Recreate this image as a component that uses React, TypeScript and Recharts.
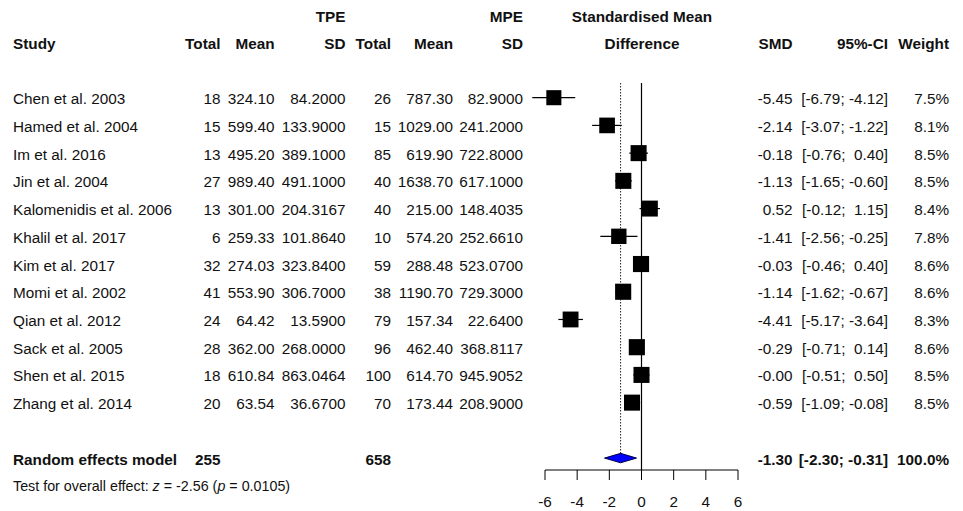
import React from 'react';
import { ComposedChart, Scatter, XAxis, YAxis, ReferenceLine } from 'recharts';

// ---------- data ----------
const studies = [
  'Chen et al. 2003',
  'Hamed et al. 2004',
  'Im et al. 2016',
  'Jin et al. 2004',
  'Kalomenidis et al. 2006',
  'Khalil et al. 2017',
  'Kim et al. 2017',
  'Momi et al. 2002',
  'Qian et al. 2012',
  'Sack et al. 2005',
  'Shen et al. 2015',
  'Zhang et al. 2014',
];
const tpeTotal = [18, 15, 13, 27, 13, 6, 32, 41, 24, 28, 18, 20];
const tpeMean = [324.1, 599.4, 495.2, 989.4, 301.0, 259.33, 274.03, 553.9, 64.42, 362.0, 610.84, 63.54];
const tpeSD = [84.2, 133.9, 389.1, 491.1, 204.3167, 101.864, 323.84, 306.7, 13.59, 268.0, 863.0464, 36.67];
const mpeTotal = [26, 15, 85, 40, 40, 10, 59, 38, 79, 96, 100, 70];
const mpeMean = [787.3, 1029.0, 619.9, 1638.7, 215.0, 574.2, 288.48, 1190.7, 157.34, 462.4, 614.7, 173.44];
const mpeSD = [82.9, 241.2, 722.8, 617.1, 148.4035, 252.661, 523.07, 729.3, 22.64, 368.8117, 945.9052, 208.9];
const smd = [-5.45, -2.14, -0.18, -1.13, 0.52, -1.41, -0.03, -1.14, -4.41, -0.29, -0.0, -0.59];
const ciLow = [-6.79, -3.07, -0.76, -1.65, -0.12, -2.56, -0.46, -1.62, -5.17, -0.71, -0.51, -1.09];
const ciHigh = [-4.12, -1.22, 0.4, -0.6, 1.15, -0.25, 0.4, -0.67, -3.64, 0.14, 0.5, -0.08];
const weight = [7.5, 8.1, 8.5, 8.5, 8.4, 7.8, 8.6, 8.6, 8.3, 8.6, 8.5, 8.5];

const pooledLabel = 'Random effects model';
const pooledTpeTotal = 255;
const pooledMpeTotal = 658;
const pooledSmd = -1.3;
const pooledLow = -2.3;
const pooledHigh = -0.31;
const pooledWeight = 100.0;
const overallTest = { z: '-2.56', p: '0.0105' };

const xTicks = [-6, -4, -2, 0, 2, 4, 6];

// ---------- layout ----------
const FONT = '"Liberation Sans", Arial, Helvetica, sans-serif';
const FS = 15.3;
const COL = {
  study: 13,
  tTotal: 220.5,
  tMean: 274.5,
  tSD: 345.5,
  mTotal: 391,
  mMean: 453,
  mSD: 523,
  center: 642,
  smd: 792.5,
  ci: 888,
  weight: 949,
};
const POOLED_ROW = 13;
const Y_DOMAIN: [number, number] = [-0.53, 13.43];
const DIAMOND_HALF = 0.17;
const BASE = 6.5;

const fmt = (v: number, d: number) =>
  (v < 0 || Object.is(v, -0) ? '-' : '') + Math.abs(v).toFixed(d);
const fmtCI = (lo: number, hi: number) =>
  `[${lo >= 0 ? ' ' : ''}${fmt(lo, 2)}; ${hi >= 0 ? ' ' : ''}${fmt(hi, 2)}]`;

const studyRows = studies.map((s, i) => ({
  x: smd[i],
  y: i,
  study: s,
  tTotal: tpeTotal[i],
  tMean: tpeMean[i],
  tSD: tpeSD[i],
  mTotal: mpeTotal[i],
  mMean: mpeMean[i],
  mSD: mpeSD[i],
  smd: smd[i],
  lo: ciLow[i],
  hi: ciHigh[i],
  w: weight[i],
}));

const pooledRow = [
  {
    x: pooledSmd,
    y: POOLED_ROW,
    study: pooledLabel,
    tTotal: pooledTpeTotal,
    mTotal: pooledMpeTotal,
    smd: pooledSmd,
    lo: pooledLow,
    hi: pooledHigh,
    w: pooledWeight,
  },
];

const diamondPts = [
  { x: pooledLow, y: POOLED_ROW },
  { x: pooledSmd, y: POOLED_ROW - DIAMOND_HALF },
  { x: pooledHigh, y: POOLED_ROW },
  { x: pooledSmd, y: POOLED_ROW + DIAMOND_HALF },
  { x: pooledLow, y: POOLED_ROW },
];

const Square = (p: any) => {
  const { cx, cy, payload } = p;
  const s = 5.5 * Math.sqrt(payload.w);
  return <rect x={cx - s / 2} y={cy - s / 2} width={s} height={s} fill="#000" />;
};

const R = (x: number, y: number, t: string | number) => (
  <text x={x} y={y} textAnchor="end" style={{ whiteSpace: 'pre' }}>
    {t}
  </text>
);

const RowText = (p: any) => {
  const { cy, payload: d } = p;
  const y = cy + BASE;
  return (
    <g fontFamily={FONT} fontSize={FS} fill="#111">
      <text x={COL.study} y={y}>{d.study}</text>
      {R(COL.tTotal, y, d.tTotal)}
      {R(COL.tMean, y, fmt(d.tMean, 2))}
      {R(COL.tSD, y, fmt(d.tSD, 4))}
      {R(COL.mTotal, y, d.mTotal)}
      {R(COL.mMean, y, fmt(d.mMean, 2))}
      {R(COL.mSD, y, fmt(d.mSD, 4))}
      {R(COL.smd, y, fmt(d.smd, 2))}
      {R(COL.ci, y, fmtCI(d.lo, d.hi))}
      {R(COL.weight, y, `${d.w.toFixed(1)}%`)}
    </g>
  );
};

const PooledText = (p: any) => {
  const { cy, payload: d } = p;
  const y = cy + BASE;
  return (
    <g fontFamily={FONT} fontSize={FS} fill="#111" fontWeight="bold">
      <text x={COL.study} y={y}>{d.study}</text>
      {R(COL.tTotal, y, d.tTotal)}
      {R(COL.mTotal, y, d.mTotal)}
      {R(COL.smd, y, fmt(d.smd, 2))}
      {R(COL.ci, y, fmtCI(d.lo, d.hi))}
      {R(COL.weight, y, `${d.w.toFixed(1)}%`)}
    </g>
  );
};

const Empty = () => <g />;

export default function App() {
  return (
    <div style={{ position: 'absolute', left: 0, top: 0, width: 963, height: 511, background: '#fff' }}>
      <ComposedChart width={963} height={511} margin={{ top: 83, right: 225, bottom: 0, left: 545 }}>
        <XAxis
          type="number"
          dataKey="x"
          domain={[-6, 6]}
          ticks={xTicks}
          interval={0}
          height={41}
          tickSize={10}
          tickMargin={16}
          axisLine={{ stroke: '#000' }}
          tickLine={{ stroke: '#000' }}
          tick={{ fontSize: FS, fill: '#111', fontFamily: FONT }}
        />
        <YAxis type="number" dataKey="y" domain={Y_DOMAIN} reversed hide />
        <ReferenceLine x={0} stroke="#000" strokeWidth={1.2} />
        <ReferenceLine
          segment={[
            { x: pooledSmd, y: Y_DOMAIN[0] },
            { x: pooledSmd, y: POOLED_ROW - DIAMOND_HALF },
          ]}
          stroke="#222"
          strokeDasharray="1.5 1.5"
          ifOverflow="visible"
        />
        {studyRows.map((r) => (
          <ReferenceLine
            key={r.study}
            segment={[
              { x: r.lo, y: r.y },
              { x: r.hi, y: r.y },
            ]}
            stroke="#000"
            strokeWidth={1.2}
            ifOverflow="visible"
          />
        ))}
        <Scatter data={studyRows} shape={Square} isAnimationActive={false} />
        <Scatter data={studyRows} shape={RowText} isAnimationActive={false} />
        <Scatter
          data={diamondPts}
          shape={Empty}
          line={{ fill: '#0000ff', stroke: '#000044', strokeWidth: 1 }}
          lineJointType="linear"
          isAnimationActive={false}
        />
        <Scatter data={pooledRow} shape={PooledText} isAnimationActive={false} />
      </ComposedChart>
      <svg
        width={963}
        height={511}
        style={{ position: 'absolute', left: 0, top: 0, pointerEvents: 'none' }}
      >
        <g fontFamily={FONT} fontSize={FS} fill="#111" fontWeight="bold">
          <text x={COL.tSD} y={22} textAnchor="end">TPE</text>
          <text x={COL.mSD} y={22} textAnchor="end">MPE</text>
          <text x={COL.center} y={22} textAnchor="middle">Standardised Mean</text>
          <text x={COL.study} y={48.5}>Study</text>
          <text x={COL.tTotal} y={48.5} textAnchor="end">Total</text>
          <text x={COL.tMean} y={48.5} textAnchor="end">Mean</text>
          <text x={COL.tSD} y={48.5} textAnchor="end">SD</text>
          <text x={COL.mTotal} y={48.5} textAnchor="end">Total</text>
          <text x={COL.mMean} y={48.5} textAnchor="end">Mean</text>
          <text x={COL.mSD} y={48.5} textAnchor="end">SD</text>
          <text x={COL.center} y={48.5} textAnchor="middle">Difference</text>
          <text x={COL.smd} y={48.5} textAnchor="end">SMD</text>
          <text x={COL.ci} y={48.5} textAnchor="end">95%-CI</text>
          <text x={COL.weight} y={48.5} textAnchor="end">Weight</text>
        </g>
        <text x={COL.study} y={491} fontFamily={FONT} fontSize={14.3} fill="#111">
          Test for overall effect: <tspan fontStyle="italic">z</tspan> = {overallTest.z} (
          <tspan fontStyle="italic">p</tspan> = {overallTest.p})
        </text>
      </svg>
    </div>
  );
}
